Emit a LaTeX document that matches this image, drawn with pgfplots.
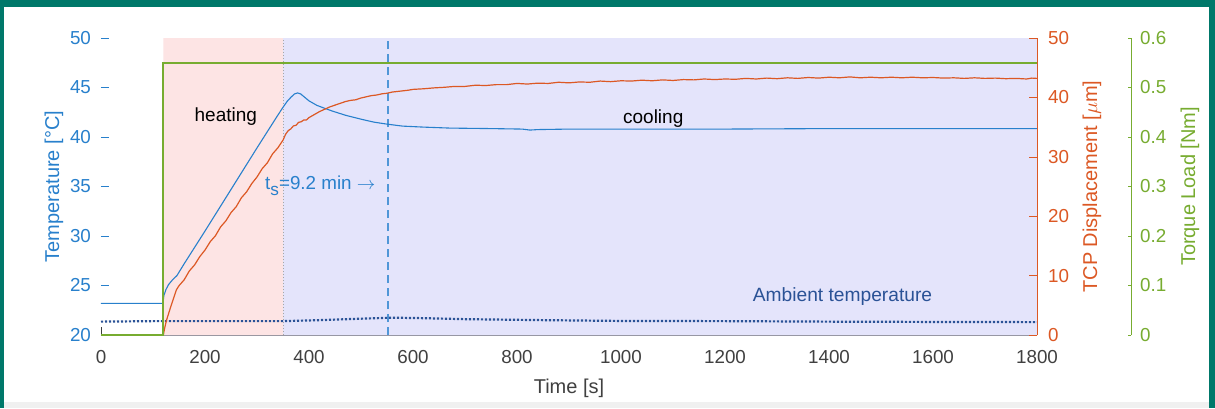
\documentclass[border=0pt]{standalone}
\usepackage{fontspec}
\setmainfont{Liberation Sans}
\usepackage{pgfplots}
\pgfplotsset{compat=1.18}
\definecolor{frame}{RGB}{0,120,106}
\definecolor{tblue}{RGB}{40,128,204}
\definecolor{tred}{RGB}{220,88,36}
\definecolor{tgreen}{RGB}{119,172,48}
\definecolor{ambblue}{RGB}{42,82,150}
\definecolor{pinkc}{RGB}{253,228,228}
\definecolor{lavc}{RGB}{228,228,251}
\definecolor{dgray}{RGB}{64,64,64}
\definecolor{agray}{RGB}{140,140,152}
\definecolor{dashblue}{RGB}{80,150,215}
\begin{document}
\begin{tikzpicture}
\fill[frame] (0,0) rectangle (607.5pt,204pt);
\fill[white] (2pt,3pt) rectangle (604.5pt,200.5pt);
\fill[black!6] (2pt,0pt) rectangle (604.5pt,3pt);
\pgfplotsset{
  base/.style={scale only axis, width=468pt, height=148.5pt,
    at={(50.5pt,36.5pt)}, anchor=south west, xmin=0, xmax=1800,
    /pgf/number format/assume math mode=true,
    /pgf/number format/1000 sep={},
    tick align=inside, major tick length=4pt,
    tick label style={font=\fontsize{9.4}{11}\selectfont},
    label style={font=\fontsize{10.5}{12}\selectfont}},
}
% ---------------- Temperature axis ----------------
\begin{axis}[base, ymin=20, ymax=50,
  axis x line*=bottom, axis y line*=left,
  x axis line style={-, agray}, y axis line style={-, draw=none},
  xtick={0,200,...,1800}, ytick={20,25,...,50},
  x tick style={dgray}, y tick style={tblue},
  xticklabel style={text=dgray, yshift=-4.2pt},
  yticklabel style={text=tblue, xshift=-1.5pt},
  xlabel={Time [s]}, ylabel={Temperature [°C]},
  every axis x label/.style={at={(axis description cs:0.5,0)}, yshift=-26.5pt, anchor=center, text=dgray},
  every axis y label/.style={at={(axis description cs:-0.0502,0.5)}, rotate=90, anchor=center, text=tblue},
]
\addplot[fill=pinkc, draw=none] coordinates {(120,20) (120,50) (350,50) (350,20)} \closedcycle;
\addplot[fill=lavc, draw=none] coordinates {(350,20) (350,50) (1800,50) (1800,20)} \closedcycle;
\addplot[gray!70, densely dotted, line width=0.5pt] coordinates {(350,20) (350,50)};
\addplot[dashblue, dash pattern=on 4pt off 2.5pt, line width=0.6pt] coordinates {(552,20) (552,50)};
\addplot[ambblue, line width=1.1pt, dash pattern=on 1.1pt off 0.9pt] coordinates {
(0,21.35) (100,21.4) (200,21.4) (350,21.4) (420,21.5) (500,21.65) (560,21.75) (620,21.7)
(700,21.6) (850,21.5) (1000,21.42) (1200,21.4) (1400,21.35) (1600,21.32) (1800,21.3)};
\addplot[tblue, line width=0.55pt] coordinates {
(0,23.2) (119,23.2) (121,24.0) (125,24.6) (130,25.1) (138,25.6) (146,26.0) (160,27.2)
(200,30.5) (250,34.7) (300,38.9) (340,42.2) (350,43.0) (358,43.6) (365,44.0) (372,44.35)
(378,44.45) (384,44.35) (392,44.0) (400,43.65) (415,43.2) (430,42.9) (446,42.6) (470,42.2)
(500,41.8) (525,41.5) (550,41.3) (580,41.1) (620,41.0) (671,40.9) (750,40.85) (810,40.8)
(825,40.7) (840,40.75) (900,40.8) (1000,40.8) (1200,40.8) (1400,40.85) (1600,40.85) (1800,40.85)};
\node[font=\fontsize{9.5}{11}\selectfont, text=black] at (axis cs:240,42.05) {heating};
\node[font=\fontsize{9.5}{11}\selectfont, text=black] at (axis cs:1062,41.9) {cooling};
\node[font=\fontsize{9.4}{11}\selectfont, text=tblue, anchor=base west, inner sep=0pt] at (axis cs:315,34.65) {t\raisebox{-0.55ex}{\fontsize{8.6}{10}\selectfont s}=9.2 min $\rightarrow$};
\node[font=\fontsize{9.6}{11}\selectfont, text=ambblue] at (axis cs:1426,23.9) {Ambient temperature};
\end{axis}
% ---------------- TCP displacement axis ----------------
\begin{axis}[base, ymin=0, ymax=50,
  axis x line=none, axis y line*=right,
  y axis line style={-, tred},
  ytick={0,10,...,50}, y tick style={tred},
  yticklabel style={text=tred, xshift=2pt},
  ylabel={TCP Displacement [$\mu$m]},
  every axis y label/.style={at={(axis description cs:1.0588,0.5)}, rotate=90, anchor=center, text=tred},
]
\addplot[tred, line width=0.6pt] coordinates {
(120,0) (122,1.0) (126,2.5) (135,5.0) (145,7.6) (150,8.3) (160,9.3) (170,10.8) (180,11.8)
(190,13.2) (200,14.3) (210,15.7) (220,16.7) (230,18.2) (240,19.2) (250,20.6) (260,21.6)
(270,23.1) (280,24.1) (290,25.5) (300,26.6) (310,28.0) (320,29.0) (330,30.5) (340,31.5)
(350,32.8) (355,33.8) (360,34.4) (365,34.7) (370,35.2) (375,35.3) (380,35.8) (385,35.9)
(390,36.2) (395,36.2) (400,36.6) (410,37.1) (420,37.6) (430,38.0) (440,38.4) (450,38.7)
(460,39.0) (470,39.3) (480,39.5) (490,39.6) (500,39.9) (510,40.1) (520,40.3) (530,40.4)
(540,40.6) (550,40.7) (560,40.9) (570,41.0) (580,41.1) (590,41.2) (600,41.35) (620,41.45)
(640,41.6) (660,41.7) (680,41.85) (700,41.85) (720,42.05) (740,42.0) (760,42.15) (780,42.15)
(800,42.35) (820,42.25) (840,42.4) (860,42.35) (880,42.55) (900,42.45) (920,42.6) (940,42.55)
(960,42.75) (980,42.65) (1000,42.8) (1020,42.75) (1040,42.9) (1060,42.8) (1080,42.95) (1100,42.85)
(1120,43.0) (1140,42.95) (1160,43.1) (1180,43.0) (1200,43.1) (1220,43.05) (1240,43.2) (1260,43.1)
(1280,43.25) (1300,43.15) (1320,43.3) (1340,43.2) (1360,43.35) (1380,43.25) (1400,43.4) (1420,43.3)
(1440,43.45) (1460,43.3) (1480,43.4) (1500,43.3) (1520,43.4) (1540,43.3) (1560,43.4) (1580,43.3)
(1600,43.35) (1620,43.25) (1640,43.3) (1660,43.2) (1680,43.3) (1700,43.2) (1720,43.25) (1740,43.15)
(1760,43.2) (1780,43.1) (1790,43.25) (1800,43.2)};
\end{axis}
% ---------------- Torque axis ----------------
\begin{axis}[scale only axis, width=515pt, height=148.5pt,
  at={(50.5pt,36.5pt)}, anchor=south west,
  xmin=0, xmax=1980.77, ymin=0, ymax=0.6,
  axis x line=none, axis y line*=right,
  y axis line style={-, tgreen},
  tick align=inside, major tick length=1.5pt,
  ytick={0,0.1,0.2,0.3,0.4,0.5,0.6},
  yticklabels={0,0.1,0.2,0.3,0.4,0.5,0.6},
  y tick style={tgreen},
  tick label style={font=\fontsize{9.4}{11}\selectfont},
  yticklabel style={text=tgreen, xshift=1pt},
  ylabel={Torque Load [Nm]},
  label style={font=\fontsize{10.5}{12}\selectfont},
  every axis y label/.style={at={(axis description cs:1.0573,0.5)}, rotate=90, anchor=center, text=tgreen},
]
\addplot[tgreen, line width=1pt] coordinates {(0,0) (120,0) (120,0.55) (1800,0.55)};
\end{axis}
\pgfresetboundingbox
\useasboundingbox (0,0) rectangle (607.5pt,204pt);
\end{tikzpicture}
\end{document}
